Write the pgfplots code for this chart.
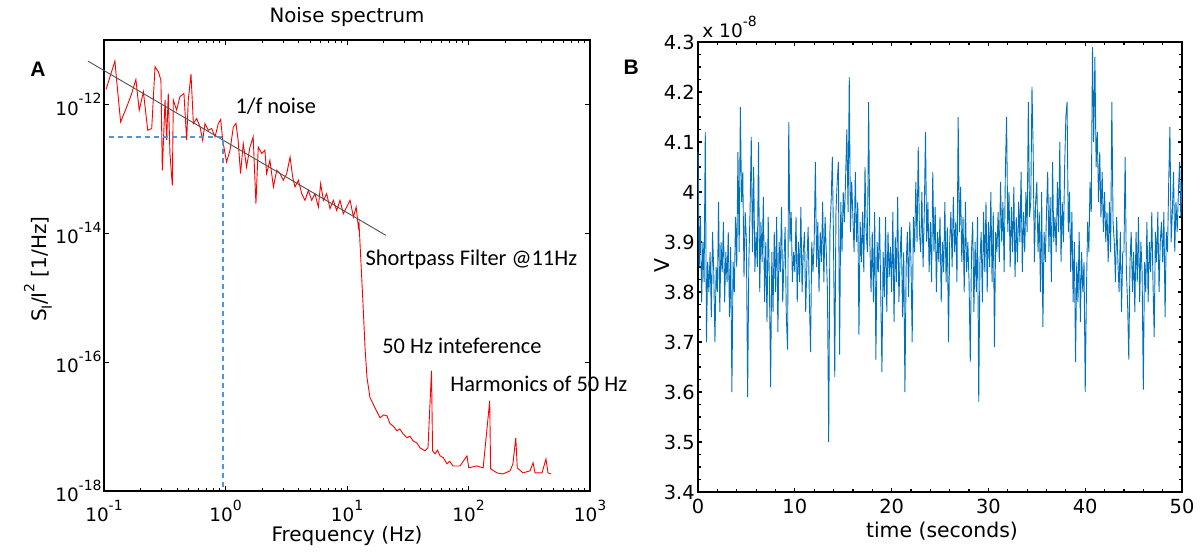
\documentclass[border=0pt]{standalone}
\usepackage{pgfplots}
\pgfplotsset{compat=1.18}
\usepackage{fontspec}
\setmainfont{DejaVu Sans}
\newfontfamily\calfont{Carlito}
\newfontfamily\libfont{Liberation Sans}
\newcommand\sups[2][7bp]{\raisebox{0.6em}{\fontsize{#1}{#1}\selectfont #2}}
\newcommand\subs[2][7bp]{\raisebox{-0.28em}{\fontsize{#1}{#1}\selectfont #2}}
\definecolor{spec}{RGB}{255,0,0}
\definecolor{trace}{RGB}{0,114,189}
\definecolor{dashc}{RGB}{80,150,215}
\definecolor{fitc}{RGB}{80,80,80}

\pgfplotstableread{
f S
0.104 1.71e-12
0.112 2.69e-12
0.123 4.71e-12
0.127 2.39e-12
0.137 5.37e-13
0.154 9.18e-13
0.169 1.48e-12
0.183 2.44e-12
0.195 8.15e-13
0.211 1.57e-12
0.229 3.98e-13
0.247 4.23e-13
0.263 3.85e-12
0.280 3.22e-12
0.294 2.39e-12
0.302 9.5e-14
0.318 1.17e-12
0.328 2.79e-13
0.338 1.48e-12
0.349 1.73e-13
0.365 5.56e-14
0.372 1.17e-12
0.396 8.15e-13
0.422 1.32e-12
0.455 1.48e-12
0.479 2.79e-13
0.494 1.17e-12
0.520 2.96e-12
0.544 5.06e-13
0.579 6.05e-13
0.617 4.49e-13
0.649 2.79e-13
0.678 5.06e-13
0.722 3.98e-13
0.769 4.23e-13
0.820 3.14e-13
0.873 5.06e-13
0.913 5.83e-13
0.948 2.79e-13
1.02 1.28e-13
1.09 1.95e-13
1.16 4.49e-13
1.22 5.06e-13
1.27 2.79e-13
1.33 8.43e-14
1.40 2.47e-13
1.49 1.07e-13
1.59 2.19e-13
1.69 3.14e-13
1.78 2.88e-14
1.86 2.19e-13
1.99 1.73e-13
2.11 1.95e-13
2.18 8.43e-14
2.32 1.36e-13
2.48 5.24e-14
2.64 9.5e-14
2.81 8.43e-14
2.99 6.65e-14
3.19 8.43e-14
3.40 1.53e-13
3.57 7.5e-14
3.73 5.24e-14
3.98 6.65e-14
4.24 4.12e-14
4.51 3.25e-14
4.81 4.65e-14
5.12 3.25e-14
5.45 4.12e-14
5.81 2.56e-14
6.07 5.9e-14
6.39 3.25e-14
6.80 4.12e-14
7.25 2.41e-14
7.72 3.25e-14
8.22 2.27e-14
8.76 3.25e-14
9.33 2.01e-14
9.94 2.56e-14
10.6 3.25e-14
11.3 1.79e-14
11.9 2.56e-14
12.4 1.25e-14
12.56 1.43e-14
13.04 3.40e-15
13.54 8.13e-16
14.07 1.68e-16
14.61 5.74e-17
15.46 2.81e-17
17.0 1.96e-17
18.7 1.37e-17
20.0 1.52e-17
21.3 1.47e-17
22.6 1.11e-17
24.0 1.02e-17
25.8 8.61e-18
27.2 9.2e-18
28.9 7.73e-18
31.2 6.70e-18
33.0 7.1e-18
34.9 6.01e-18
37.5 5.6e-18
39.9 4.68e-18
43.9 4.21e-18
46.4 4.68e-18
49.6 7.38e-17
50.6 4.21e-18
53.0 3.78e-18
55.5 4.3e-18
58.3 3.52e-18
62.0 3.3e-18
66.5 2.64e-18
70.0 2.9e-18
74.5 2.45e-18
85.1 2.45e-18
97.2 3.52e-18
100.5 2.29e-18
117 2.45e-18
132 2.29e-18
149.5 2.52e-17
152 2.21e-18
172 1.91e-18
192 1.84e-18
220 2.06e-18
232 2.64e-18
245 6.70e-18
252 2.29e-18
281 1.91e-18
321 2.06e-18
340 2.74e-18
353 1.91e-18
403 1.91e-18
434 3.15e-18
451 1.91e-18
478 1.84e-18
}\spectrum

\pgfplotstableread[row sep=\\]{
t v\\
0 4.08\\ 0.125 3.85\\ 0.25 3.95\\ 0.375 3.78\\ 0.5 3.90\\ 0.625 3.82\\ 0.75 4.12\\ 0.875 3.70\\
1 3.86\\ 1.125 3.80\\ 1.25 3.88\\ 1.375 3.75\\ 1.5 3.92\\ 1.625 3.84\\ 1.75 3.70\\ 1.875 3.85\\
2 3.80\\ 2.125 3.98\\ 2.25 3.76\\ 2.375 3.90\\ 2.5 3.84\\ 2.625 3.94\\ 2.75 3.78\\ 2.875 3.88\\
3 3.82\\ 3.125 3.92\\ 3.25 3.75\\ 3.375 3.89\\ 3.5 3.60\\ 3.625 3.86\\ 3.75 3.80\\ 3.875 3.95\\
4 3.85\\ 4.125 4.08\\ 4.25 3.88\\ 4.375 4.17\\ 4.5 3.98\\ 4.625 4.04\\ 4.75 3.83\\ 4.875 3.96\\
5 3.90\\ 5.125 3.59\\ 5.25 3.86\\ 5.375 3.96\\ 5.5 4.11\\ 5.625 3.88\\ 5.75 4.05\\ 5.875 3.84\\
6 3.92\\ 6.125 3.85\\ 6.25 4.10\\ 6.375 3.80\\ 6.5 3.94\\ 6.625 3.86\\ 6.75 3.99\\ 6.875 3.78\\
7 3.90\\ 7.125 3.74\\ 7.25 3.95\\ 7.375 3.82\\ 7.5 3.61\\ 7.625 3.88\\ 7.75 3.76\\ 7.875 3.92\\
8 3.80\\ 8.125 3.95\\ 8.25 3.72\\ 8.375 3.90\\ 8.5 3.84\\ 8.625 3.97\\ 8.75 3.78\\ 8.875 3.86\\
9 3.93\\ 9.125 3.75\\ 9.25 3.685\\ 9.375 4.14\\ 9.5 3.90\\ 9.625 3.96\\ 9.75 3.82\\ 9.875 3.88\\
10 3.84\\ 10.125 3.95\\ 10.25 3.78\\ 10.375 3.90\\ 10.5 3.82\\ 10.625 3.97\\ 10.75 3.80\\ 10.875 3.88\\
11 3.92\\ 11.125 3.76\\ 11.25 3.86\\ 11.375 3.93\\ 11.5 3.79\\ 11.625 3.68\\ 11.75 3.90\\ 11.875 3.84\\
12 3.90\\ 12.125 4.06\\ 12.25 3.85\\ 12.375 3.94\\ 12.5 3.80\\ 12.625 3.92\\ 12.75 3.86\\ 12.875 3.98\\
13 3.82\\ 13.125 3.95\\ 13.25 3.88\\ 13.375 3.80\\ 13.5 3.50\\ 13.625 3.92\\ 13.75 3.98\\ 13.875 4.07\\
14 3.90\\ 14.125 3.63\\ 14.25 3.96\\ 14.375 4.02\\ 14.5 4.06\\ 14.625 3.675\\ 14.75 3.98\\ 14.875 3.88\\
15 4.00\\ 15.125 3.94\\ 15.25 4.03\\ 15.375 4.125\\ 15.5 3.96\\ 15.625 4.23\\ 15.75 3.92\\ 15.875 4.02\\
16 3.95\\ 16.125 3.88\\ 16.25 4.04\\ 16.375 3.90\\ 16.5 3.98\\ 16.625 3.715\\ 16.75 3.94\\ 16.875 3.86\\
17 3.96\\ 17.125 3.84\\ 17.25 4.05\\ 17.375 3.92\\ 17.5 3.88\\ 17.625 4.18\\ 17.75 3.90\\ 17.875 3.80\\
18 3.92\\ 18.125 3.78\\ 18.25 3.96\\ 18.375 3.665\\ 18.5 3.90\\ 18.625 3.84\\ 18.75 3.95\\ 18.875 3.80\\
19 3.64\\ 19.125 3.88\\ 19.25 3.79\\ 19.375 3.95\\ 19.5 3.76\\ 19.625 3.92\\ 19.75 3.83\\ 19.875 3.89\\
20 3.80\\ 20.125 3.96\\ 20.25 3.74\\ 20.375 3.91\\ 20.5 3.82\\ 20.625 3.99\\ 20.75 3.78\\ 20.875 3.87\\
21 3.93\\ 21.125 3.75\\ 21.25 3.88\\ 21.375 3.60\\ 21.5 3.85\\ 21.625 3.92\\ 21.75 3.79\\ 21.875 3.94\\
22 3.86\\ 22.125 3.70\\ 22.25 3.95\\ 22.375 3.88\\ 22.5 4.02\\ 22.625 3.90\\ 22.75 4.09\\ 22.875 3.92\\
23 3.88\\ 23.125 4.00\\ 23.25 3.85\\ 23.375 3.96\\ 23.5 4.12\\ 23.625 3.90\\ 23.75 3.98\\ 23.875 3.84\\
24 3.94\\ 24.125 3.82\\ 24.25 4.04\\ 24.375 3.88\\ 24.5 3.97\\ 24.625 3.80\\ 24.75 3.92\\ 24.875 3.86\\
25 3.95\\ 25.125 3.78\\ 25.25 3.90\\ 25.375 3.84\\ 25.5 3.98\\ 25.625 3.82\\ 25.75 3.93\\ 25.875 3.70\\
26 3.90\\ 26.125 3.96\\ 26.25 3.85\\ 26.375 3.99\\ 26.5 3.88\\ 26.625 3.94\\ 26.75 3.82\\ 26.875 4.15\\
27 3.92\\ 27.125 4.01\\ 27.25 3.86\\ 27.375 3.95\\ 27.5 3.80\\ 27.625 3.98\\ 27.75 3.84\\ 27.875 3.90\\
28 3.82\\ 28.125 3.66\\ 28.25 3.88\\ 28.375 3.94\\ 28.5 3.76\\ 28.625 3.90\\ 28.75 3.80\\ 28.875 3.95\\
29 3.58\\ 29.125 3.86\\ 29.25 3.92\\ 29.375 3.78\\ 29.5 3.96\\ 29.625 3.84\\ 29.75 3.98\\ 29.875 3.80\\
30 3.94\\ 30.125 3.85\\ 30.25 4.00\\ 30.375 3.82\\ 30.5 3.96\\ 30.625 3.69\\ 30.75 3.92\\ 30.875 3.88\\
31 3.96\\ 31.125 3.86\\ 31.25 4.02\\ 31.375 3.90\\ 31.5 3.98\\ 31.625 3.84\\ 31.75 4.04\\ 31.875 4.15\\
32 3.92\\ 32.125 4.00\\ 32.25 3.85\\ 32.375 3.97\\ 32.5 3.88\\ 32.625 4.01\\ 32.75 3.83\\ 32.875 3.95\\
33 3.86\\ 33.125 3.98\\ 33.25 3.90\\ 33.375 4.04\\ 33.5 3.84\\ 33.625 3.96\\ 33.75 3.88\\ 33.875 4.00\\
34 3.92\\ 34.125 4.18\\ 34.25 3.95\\ 34.375 3.98\\ 34.5 4.21\\ 34.625 4.08\\ 34.75 3.86\\ 34.875 3.98\\
35 4.02\\ 35.125 3.88\\ 35.25 3.96\\ 35.375 3.80\\ 35.5 4.00\\ 35.625 3.73\\ 35.75 3.92\\ 35.875 3.86\\
36 3.96\\ 36.125 4.04\\ 36.25 3.88\\ 36.375 3.99\\ 36.5 3.82\\ 36.625 4.06\\ 36.75 3.90\\ 36.875 3.95\\
37 3.88\\ 37.125 4.02\\ 37.25 3.92\\ 37.375 4.10\\ 37.5 3.86\\ 37.625 3.98\\ 37.75 3.90\\ 37.875 4.05\\
38 4.15\\ 38.125 4.18\\ 38.25 3.92\\ 38.375 4.00\\ 38.5 3.84\\ 38.625 3.96\\ 38.75 3.78\\ 38.875 3.90\\
39 3.66\\ 39.125 3.86\\ 39.25 3.78\\ 39.375 3.92\\ 39.5 3.74\\ 39.625 3.88\\ 39.75 3.80\\ 39.875 3.86\\
40 3.60\\ 40.125 3.80\\ 40.25 3.94\\ 40.375 3.88\\ 40.5 4.02\\ 40.625 3.96\\ 40.75 4.29\\ 40.875 4.10\\
41 4.27\\ 41.125 4.05\\ 41.25 4.12\\ 41.375 3.98\\ 41.5 4.08\\ 41.625 3.95\\ 41.75 4.04\\ 41.875 3.92\\
42 4.00\\ 42.125 3.90\\ 42.25 3.96\\ 42.375 3.86\\ 42.5 3.98\\ 42.625 3.88\\ 42.75 4.18\\ 42.875 3.94\\
43 3.90\\ 43.125 3.82\\ 43.25 3.95\\ 43.375 3.86\\ 43.5 3.80\\ 43.625 3.92\\ 43.75 3.76\\ 43.875 3.88\\
44 3.88\\ 44.125 4.07\\ 44.25 3.84\\ 44.375 3.78\\ 44.5 3.665\\ 44.625 3.86\\ 44.75 3.92\\ 44.875 3.80\\
45 3.88\\ 45.125 3.76\\ 45.25 3.92\\ 45.375 3.82\\ 45.5 3.95\\ 45.625 3.78\\ 45.75 3.90\\ 45.875 3.84\\
46 3.605\\ 46.125 3.86\\ 46.25 3.80\\ 46.375 3.94\\ 46.5 3.78\\ 46.625 3.90\\ 46.75 3.84\\ 46.875 3.96\\
47 3.82\\ 47.125 3.71\\ 47.25 3.92\\ 47.375 3.86\\ 47.5 3.96\\ 47.625 3.80\\ 47.75 3.90\\ 47.875 3.94\\
48 3.86\\ 48.125 3.96\\ 48.25 3.75\\ 48.375 3.92\\ 48.5 3.88\\ 48.625 4.02\\ 48.75 4.13\\ 48.875 3.90\\
49 3.96\\ 49.125 4.04\\ 49.25 3.88\\ 49.375 3.98\\ 49.5 3.92\\ 49.625 4.00\\ 49.75 4.06\\ 49.875 3.95\\
50 4.02\\
}\trace

\begin{document}
\begin{tikzpicture}[x=1bp,y=1bp]
\useasboundingbox (0,0) rectangle (601.5,276);

% ---------- Panel A ----------
\begin{axis}[
  at={(52bp,30.5bp)}, anchor=south west,
  scale only axis, width=243bp, height=225.5bp,
  xmode=log, ymode=log,
  xmin=0.1, xmax=1000, ymin=1e-18, ymax=1e-11,
  xtick={0.1,1,10,100,1000},
  xticklabels={10\sups{-1},10\sups{0},10\sups{1},10\sups{2},10\sups{3}},
  ytick={1e-18,1e-16,1e-14,1e-12},
  yticklabels={10\sups{-18},10\sups{-16},10\sups{-14},10\sups{-12}},
  yminorticks=false,
  tick align=inside,
  major tick length=2.4bp, minor tick length=1.6bp,
  axis line style={line width=0.8bp},
  every tick/.style={black, line width=0.5bp},
  tick label style={font=\fontsize{9.2bp}{10bp}\selectfont},
  yticklabel style={inner sep=1bp},
  xticklabel style={yshift=-1bp},
  clip=false,
  every axis title shift=0pt,
  title={Noise spectrum},
  title style={at={(axis description cs:0.5,1.051)}, anchor=center, font=\fontsize{9.9bp}{12bp}\selectfont},
  xlabel={Frequency (Hz)},
  xlabel style={at={(axis description cs:0.5,-0.1)}, anchor=center, font=\fontsize{10bp}{12bp}\selectfont},
  ylabel={S\subs{I}/I\sups[7bp]{2} [1/Hz]},
  ylabel style={at={(axis description cs:-0.136,0.492)}, anchor=center, font=\fontsize{10bp}{12bp}\selectfont},
]
\addplot[spec, line width=0.45bp] table[x=f, y=S] {\spectrum};
\addplot[fitc, line width=0.45bp] coordinates {(0.0738,4.7e-12) (20.9,9.3e-15)};
\addplot[dashc, line width=0.8bp, dash pattern=on 2.5bp off 2bp] coordinates {(0.11,3.1e-13) (0.954,3.1e-13) (0.954,1e-18)};
\node[anchor=west, inner sep=0pt, font=\calfont\fontsize{11.2bp}{13bp}\selectfont] at (axis cs:1.2,9.4e-13) {1/f noise};
\node[anchor=west, inner sep=0pt, font=\calfont\fontsize{11.2bp}{13bp}\selectfont] at (axis cs:14.1,3.93e-15) {Shortpass Filter @11Hz};
\node[anchor=west, inner sep=0pt, font=\calfont\fontsize{11.2bp}{13bp}\selectfont] at (axis cs:19.4,1.81e-16) {50 Hz inteference};
\node[anchor=west, inner sep=0pt, font=\calfont\fontsize{11.2bp}{13bp}\selectfont] at (axis cs:70.5,4.64e-17) {Harmonics of 50 Hz};
\node[anchor=center, font=\libfont\bfseries\fontsize{10.5bp}{12bp}\selectfont] at (axis description cs:-0.136,0.936) {A};
\end{axis}

% ---------- Panel B ----------
\begin{axis}[
  at={(349bp,30bp)}, anchor=south west,
  scale only axis, width=242bp, height=225bp,
  xmin=0, xmax=50, ymin=3.4, ymax=4.3,
  xtick={0,10,...,50},
  ytick={3.4,3.5,...,4.3},
  minor x tick num=4, minor y tick num=3,
  tick align=inside,
  major tick length=2.2bp, minor tick length=1.5bp,
  axis line style={line width=0.8bp},
  every tick/.style={black, line width=0.6bp},
  /pgf/number format/assume math mode=true,
  tick label style={font=\fontsize{9.7bp}{11bp}\selectfont},
  yticklabel style={inner sep=1.5bp},
  clip=false,
  xlabel={time (seconds)},
  xlabel style={at={(axis description cs:0.504,-0.087)}, anchor=center, font=\fontsize{10.2bp}{12bp}\selectfont},
  ylabel={V},
  ylabel style={at={(axis description cs:-0.074,0.504)}, anchor=center, font=\fontsize{10.2bp}{12bp}\selectfont},
]
\addplot[trace, line width=0.45bp] table[x=t, y=v] {\trace};
\node[anchor=center, font=\libfont\bfseries\fontsize{10.5bp}{12bp}\selectfont] at (axis description cs:-0.138,0.944) {B};
\node[anchor=base west, inner sep=0pt, font=\fontsize{9.3bp}{11bp}\selectfont] at (axis description cs:0.008,1.009) {x 10\sups{-8}};
\end{axis}
\end{tikzpicture}
\end{document}
